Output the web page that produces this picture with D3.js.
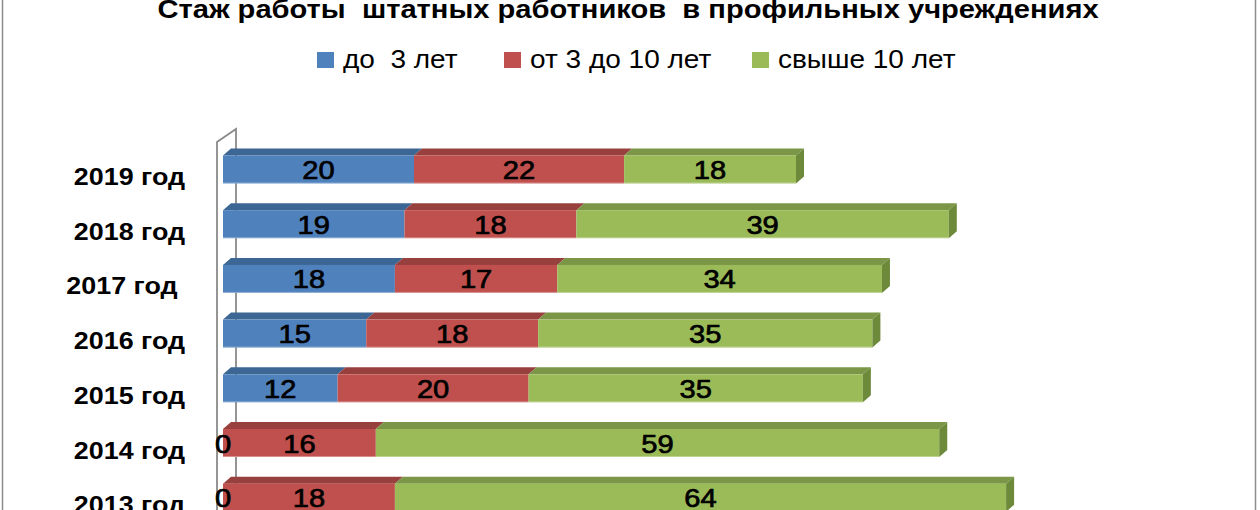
<!DOCTYPE html>
<html>
<head>
<meta charset="utf-8">
<script src="https://cdn.jsdelivr.net/npm/d3@7"></script>
<style>
  body { margin: 0; background: #fff; }
  svg text { font-family: "Liberation Sans", Arial, sans-serif; white-space: pre; }
</style>
</head>
<body>
<div id="chart"></div>
<script>
// Данные с картинки
const chartTitle = "Стаж работы  штатных работников  в профильных учреждениях";
const categories = ["2019 год", "2018 год", "2017 год ", "2016 год", "2015 год", "2014 год", "2013 год"];
const seriesNames = ["до  3 лет", "от 3 до 10 лет", "свыше 10 лет"];
const upTo3 = [20, 19, 18, 15, 12, 0, 0];
const from3to10 = [22, 18, 17, 18, 20, 16, 18];
const over10 = [18, 39, 34, 35, 35, 59, 64];

const colors = ["#4F81BD", "#C0504D", "#9BBB59"];
const topColors = ["#3C6694", "#98403E", "#7A9646"];
const sideColor = "#6C8A3A";

const width = 1260;
const height = 510;
const stretch = 1.12; // картинка растянута по горизонтали

const svg = d3.select("#chart")
  .append("svg")
  .attr("width", width)
  .attr("height", height);

// текст с растяжкой по x
function addText(parent, tx, ty, str, size, weight, anchor) {
  return parent.append("text")
    .attr("transform", `translate(${tx},${ty}) scale(${stretch},1)`)
    .attr("text-anchor", anchor || "start")
    .style("font-size", size + "px")
    .style("font-weight", weight || "normal")
    .text(str);
}

// рамка диаграммы
svg.append("rect")
  .attr("x", 2.5)
  .attr("y", -10)
  .attr("width", 1253)
  .attr("height", height + 20)
  .attr("fill", "none")
  .attr("stroke", "#8c8c8c")
  .attr("stroke-width", 1.5);

// заголовок
addText(svg, 628, 18, chartTitle, 26, "bold", "middle");

// легенда
const legendX = [317, 504, 752];
const legend = svg.append("g");
seriesNames.forEach((name, i) => {
  legend.append("rect")
    .attr("x", legendX[i])
    .attr("y", 52)
    .attr("width", 17)
    .attr("height", 16)
    .attr("fill", colors[i]);
  addText(legend, legendX[i] + 26, 68, name, 25);
});

// шкалы
const step = 54.7;
const y = d3.scaleBand()
  .domain(categories)
  .range([142.15, 142.15 + step * categories.length])
  .paddingInner(0.488)
  .paddingOuter(0.244);

const x = d3.scaleLinear()
  .domain([0, 100])
  .range([223, 1178]);

const dx = 8;   // глубина 3D
const dy = 7;

// стенка (ось категорий)
svg.append("path")
  .attr("d", `M${x(0) + 13},${height} V129 L${x(0) - 6},142 V${height}`)
  .attr("fill", "none")
  .attr("stroke", "#8a8a8a")
  .attr("stroke-width", 1.8);

// стек
const rows = categories.map((c, i) => ({ cat: c, values: [upTo3[i], from3to10[i], over10[i]] }));

rows.forEach((row) => {
  const y0 = y(row.cat);
  const bh = y.bandwidth();
  let acc = 0;
  const g = svg.append("g");
  row.values.forEach((v, s) => {
    const a = x(acc);
    const b = x(acc + v);
    acc += v;
    if (v > 0) {
      // верхняя грань
      g.append("path")
        .attr("d", `M${a},${y0} L${a + dx},${y0 - dy} L${b + dx},${y0 - dy} L${b},${y0} Z`)
        .attr("fill", topColors[s]);
      // передняя грань
      g.append("rect")
        .attr("x", a)
        .attr("y", y0)
        .attr("width", b - a)
        .attr("height", bh)
        .attr("fill", colors[s]);
      g.append("line")
        .attr("x1", a).attr("x2", b)
        .attr("y1", y0 + bh - 0.5).attr("y2", y0 + bh - 0.5)
        .attr("stroke", "#ffffff")
        .attr("stroke-opacity", 0.35)
        .attr("stroke-width", 1);
    }
  });
  // боковая грань последнего сегмента
  const end = x(acc);
  g.append("path")
    .attr("d", `M${end},${y0} L${end + dx},${y0 - dy} L${end + dx},${y0 + bh - dy} L${end},${y0 + bh} Z`)
    .attr("fill", sideColor);

  // подписи значений
  acc = 0;
  row.values.forEach((v) => {
    const cx = x(acc + v / 2);
    acc += v;
    addText(g, cx, y0 + bh / 2 + 9.5, v, 26, "normal", "middle")
      .attr("fill", "#000")
      .attr("stroke", "#000")
      .attr("stroke-width", 0.7);
  });

  // подпись категории
  addText(svg, 185, y0 + bh / 2 + 15.5, row.cat, 24, "bold", "end");
});
</script>
</body>
</html>
